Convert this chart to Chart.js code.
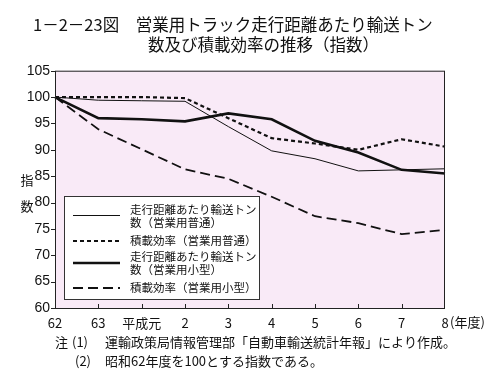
<!DOCTYPE html>
<html><head><meta charset="utf-8">
<script src="https://cdn.jsdelivr.net/npm/chart.js@4/dist/chart.umd.min.js"></script>
<style>
html,body{margin:0;padding:0;background:#fff;}
#wrap{position:relative;width:501px;height:383px;}
canvas{position:absolute;left:0;top:0;}
</style></head>
<body><div id="wrap"><canvas id="c" width="501" height="383"></canvas></div>
<script>
const categories = ['62','63','平成元','2','3','4','5','6','7','8'];
const tonPerKmFutsu = [100, 99.4, 99.3, 99.2, 94.4, 89.8, 88.3, 86.0, 86.2, 86.4];
const loadFactorFutsu = [100, 100, 100, 99.8, 96.0, 92.2, 91.2, 90.0, 92.0, 90.6];
const tonPerKmKogata = [100, 96.0, 95.8, 95.4, 96.9, 95.8, 91.7, 89.5, 86.2, 85.5];
const loadFactorKogata = [100, 93.9, 90.1, 86.3, 84.5, 81.1, 77.4, 76.1, 74.0, 74.8];
const yTicks = [60,65,70,75,80,85,90,95,100,105];
const seriesNames = [
  ['走行距離あたり輸送トン','数（営業用普通）'],
  ['積載効率（営業用普通）'],
  ['走行距離あたり輸送トン','数（営業用小型）'],
  ['積載効率（営業用小型）']
];
const titleLines = ['1－2－23図　営業用トラック走行距離あたり輸送トン','数及び積載効率の推移（指数）'];
const notes = [['注','(1)','運輸政策局情報管理部「自動車輸送統計年報」により作成。'],['','(2)','昭和62年度を100とする指数である。']];
const yAxisTitle = ['指','数'];
const xUnit = '(年度)';

const JP = '"Noto Sans CJK JP", sans-serif';
const NUM = '"Liberation Sans", Arial, sans-serif';

const styles = [
  {borderWidth:1, borderDash:[]},
  {borderWidth:2.2, borderDash:[4,3]},
  {borderWidth:2.6, borderDash:[]},
  {borderWidth:1.8, borderDash:[10,5]}
];
const dataArr = [tonPerKmFutsu, loadFactorFutsu, tonPerKmKogata, loadFactorKogata];

const decor = {
  id:'decor',
  beforeDraw(chart){
    const {ctx, chartArea:a} = chart;
    ctx.save();
    ctx.fillStyle = '#f9eaf7';
    ctx.fillRect(a.left, a.top, a.right-a.left, a.bottom-a.top);
    ctx.restore();
  },
  afterDraw(chart){
    const {ctx, chartArea:a, scales} = chart;
    ctx.save();
    ctx.strokeStyle = '#222'; ctx.lineWidth = 1;
    ctx.strokeRect(a.left+0.5, a.top+0.5, a.right-a.left-1, a.bottom-a.top);
    scales.y.ticks.forEach((t,i)=>{
      const y = Math.round(scales.y.getPixelForTick(i))+0.5;
      ctx.beginPath(); ctx.moveTo(a.left-4,y); ctx.lineTo(a.left,y); ctx.stroke();
    });
    for(let i=1;i<categories.length-1;i++){
      const x = Math.round(scales.x.getPixelForTick(i))+0.5;
      ctx.beginPath(); ctx.moveTo(x,a.bottom); ctx.lineTo(x,a.bottom-4); ctx.stroke();
    }
    ctx.fillStyle = '#111';
    ctx.font = '13px '+JP;
    ctx.textBaseline = 'middle';
    ctx.textAlign = 'left';
    ctx.fillText(xUnit, scales.x.getPixelForTick(categories.length-1)+5, 322);
    ctx.textAlign = 'center';
    ctx.fillText(yAxisTitle[0], 27, 180);
    ctx.fillText(yAxisTitle[1], 27, 206);
    const lx=64, ly=196, lw=195, lh=103;
    ctx.fillStyle='#fff';
    ctx.fillRect(lx,ly,lw,lh);
    ctx.strokeStyle='#333'; ctx.lineWidth=1;
    ctx.strokeRect(lx+0.5,ly+0.5,lw,lh);
    const sampleY=[215.5,241,263,288];
    const textY=[[210,223],[241],[257,270],[288]];
    ctx.strokeStyle='#111';
    styles.forEach((s,i)=>{
      ctx.lineWidth=s.borderWidth; ctx.setLineDash(s.borderDash);
      ctx.beginPath(); ctx.moveTo(73,sampleY[i]); ctx.lineTo(120,sampleY[i]); ctx.stroke();
    });
    ctx.setLineDash([]);
    ctx.fillStyle='#111'; ctx.textAlign='left'; ctx.font='11.5px '+JP;
    seriesNames.forEach((lines,i)=>{
      lines.forEach((t,j)=>ctx.fillText(t,130,textY[i][j]));
    });
    ctx.font='16.5px '+JP;
    ctx.fillText(titleLines[0],33,25);
    ctx.fillText(titleLines[1],148,45);
    ctx.font='13px '+JP;
    ctx.fillText(notes[0][0],55,342);
    ctx.fillText(notes[0][1],72,342);
    ctx.fillText(notes[0][2],105,342);
    ctx.fillText(notes[1][1],75,361);
    ctx.fillText(notes[1][2],105,361);
    ctx.restore();
  }
};

new Chart(document.getElementById('c'), {
  type:'line',
  data:{
    labels:categories,
    datasets:dataArr.map((d,i)=>({
      label:seriesNames[i].join(''),
      data:d,
      borderColor:'#111',
      borderWidth:styles[i].borderWidth,
      borderDash:styles[i].borderDash,
      pointRadius:0,
      tension:0,
      fill:false
    }))
  },
  options:{
    responsive:false,
    animation:false,
    devicePixelRatio:1,
    layout:{padding:{left:0,top:70.7,right:56,bottom:50}},
    plugins:{legend:{display:false},tooltip:{enabled:false}},
    scales:{
      x:{
        offset:false,
        grid:{display:false,drawTicks:false},
        border:{display:false},
        ticks:{color:'#111',font:{family:JP,size:13},padding:7,maxRotation:0,autoSkip:false},
        afterFit(s){s.height=25;}
      },
      y:{
        min:60,max:105,
        afterBuildTicks(s){s.ticks=yTicks.map(v=>({value:v}));},
        grid:{display:false,drawTicks:false},
        border:{display:false},
        ticks:{color:'#111',font:{family:NUM,size:14},padding:5},
        afterFit(s){s.width=55;}
      }
    }
  },
  plugins:[decor]
});
</script></body></html>
